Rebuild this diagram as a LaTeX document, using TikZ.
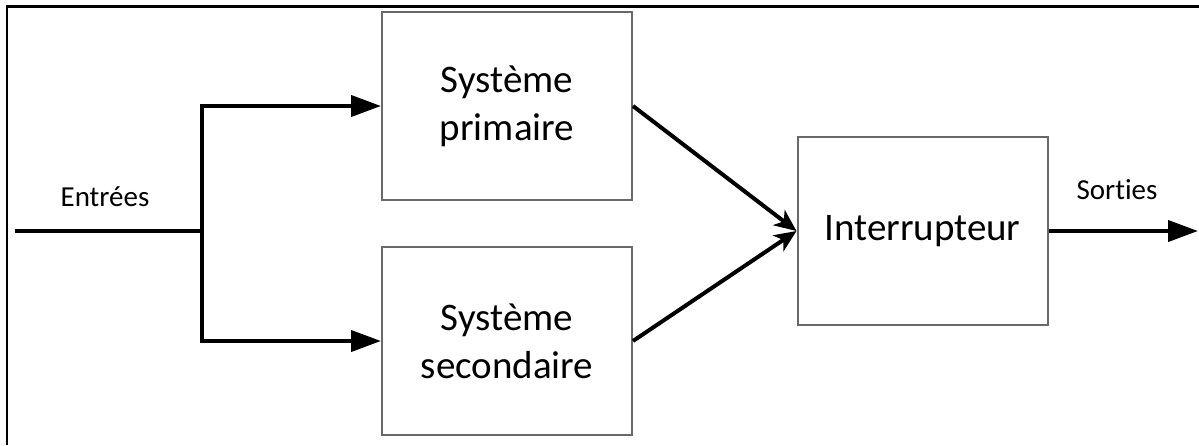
\documentclass[tikz,border=0pt]{standalone}
\usepackage{fontspec}
\setmainfont[Ligatures=NoCommon]{Carlito}
\usetikzlibrary{arrows.meta}
\definecolor{boxgray}{RGB}{105,105,105}
\begin{document}
\begin{tikzpicture}[x=1pt,y=-1pt,
  blk/.style={draw=boxgray,line width=2pt,minimum width=250pt,minimum height=188pt,
    align=center,inner sep=0pt,font=\fontsize{39}{48}\selectfont},
  wire/.style={line width=4pt},
  arr/.style={wire,-{Triangle[length=30pt,width=21pt]}},
  darr/.style={wire,-{Stealth[length=22pt,width=19pt,inset=6pt]}},
  lbl/.style={font=\fontsize{29}{34}\selectfont,inner sep=0pt}]
\useasboundingbox (0,0) rectangle (1199,445);
\draw[line width=2.5pt] (7,445) -- (7,6.5) -- (1199,6.5);
\node[blk] (prim) at (507,106) {Système\\primaire};
\node[blk] (sec) at (507,341) {Système\\secondaire};
\node[blk] (int) at (922.5,231) {Interrupteur};
\coordinate (in) at (15,231);
\coordinate (j) at (202,231);
\coordinate (out) at (1198,231);
\draw[wire] (in) -- (j);
\draw[arr] (j) |- (prim.west);
\draw[arr] (j) |- (sec.west);
\draw[darr] (prim.east) -- (int.west);
\draw[darr] (sec.east) -- (int.west);
\draw[arr] (int.east) -- (out);
\node[lbl] (entrees) at (105,197) {Entrées};
\node[lbl] (sorties) at (1117,190) {Sorties};
\end{tikzpicture}
\end{document}
